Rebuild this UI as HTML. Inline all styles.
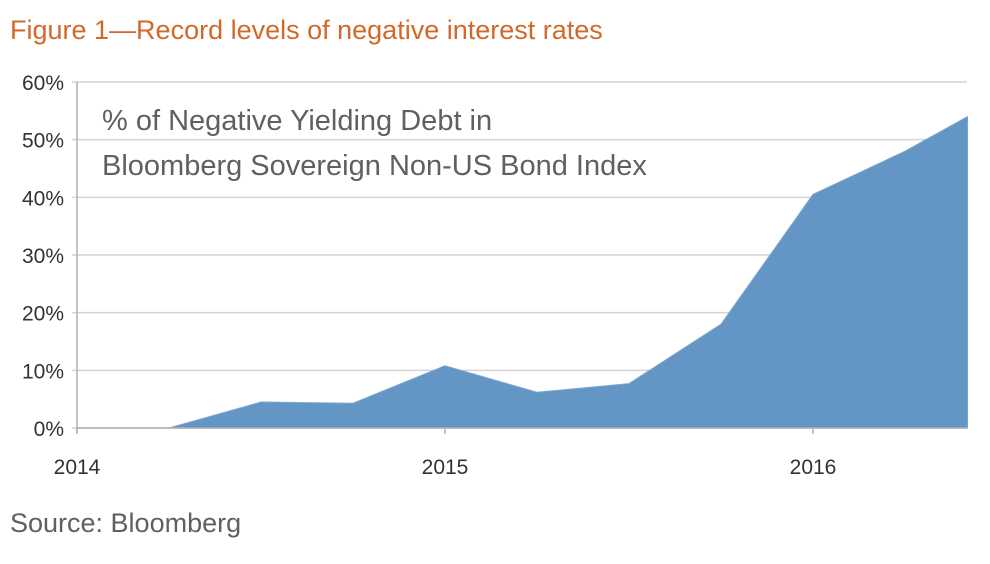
<!DOCTYPE html>
<html><head><meta charset="utf-8"><style>
body{margin:0;width:990px;height:559px;background:#fff;overflow:hidden;font-family:"Liberation Sans",sans-serif}
</style></head><body>
<svg width="990" height="559">
<text x="10" y="39" font-size="27" fill="#d2692a">Figure 1—Record levels of negative interest rates</text>
<g id="grid"></g>
<path id="area" fill="#6396c5" stroke="#7aa6cf" stroke-width="1"/>
<g id="axes"></g>
<text x="102" y="130" font-size="29" fill="#606060">% of Negative Yielding Debt in</text>
<text x="102" y="175" font-size="29" fill="#606060">Bloomberg Sovereign Non-US Bond Index</text>
<text x="10" y="532" font-size="27" fill="#606060">Source: Bloomberg</text>
</svg>
<script>
const dates=[2014,2014.25,2014.5,2014.75,2015,2015.25,2015.5,2015.75,2016,2016.25,2016.42];
const values=[0,0,4.5,4.3,10.8,6.2,7.7,18,40.5,48,54];
const yTicks=[0,10,20,30,40,50,60];
const xTicks=[2014,2015,2016];
const x=d=>77+(d-2014)*368;
const y=v=>428-v*(346/60);
const ns="http://www.w3.org/2000/svg";
const grid=document.getElementById('grid'),axes=document.getElementById('axes');
function mk(tag,attrs,parent,txt){const e=document.createElementNS(ns,tag);for(const k in attrs)e.setAttribute(k,attrs[k]);if(txt!==undefined)e.textContent=txt;parent.appendChild(e);return e;}
yTicks.forEach(t=>{
 const l=mk('line',{x1:72,x2:967,y1:y(t),y2:y(t),stroke:'#d4d4d4','stroke-width':1.5},grid);
 
 
 const tx=mk('text',{x:64,y:y(t)+8,'text-anchor':'end','font-size':21,fill:'#333'},axes,t+'%');
 
 
});
let d='M'+x(dates[0])+','+y(0);
dates.forEach((dt,i)=>{d+=' L'+x(dt)+','+y(values[i]);});
d+=' L'+x(dates[dates.length-1])+','+y(0)+' Z';
document.getElementById('area').setAttribute('d',d);
const ax=mk('line',{x1:77,x2:967,y1:y(0),y2:y(0),stroke:'#b0b0b0','stroke-width':1.5},axes);


const ay=mk('line',{x1:77,x2:77,y1:y(60),y2:y(0)+5,stroke:'#b0b0b0','stroke-width':1.5},axes);


xTicks.forEach(t=>{
 const tk=mk('line',{x1:x(t),x2:x(t),y1:y(0),y2:y(0)+6,stroke:'#b0b0b0','stroke-width':1.5},axes);
 
 
 const tx=mk('text',{x:x(t),y:474,'text-anchor':'middle','font-size':21,fill:'#333'},axes,String(t));
 
 
});
</script>
</body></html>
